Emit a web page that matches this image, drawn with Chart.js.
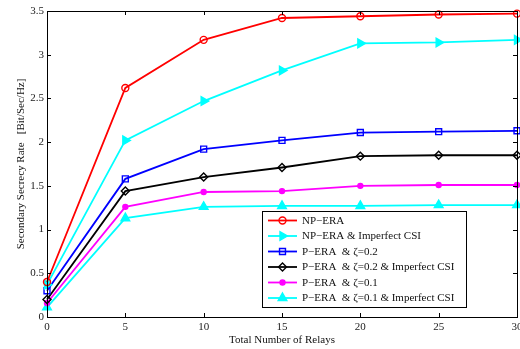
<!DOCTYPE html>
<html>
<head>
<meta charset="utf-8">
<script src="https://cdn.jsdelivr.net/npm/chart.js@4/dist/chart.umd.min.js"></script>
<style>
  html, body { margin: 0; padding: 0; background: #fff; overflow: hidden; }
  #wrap { width: 540px; height: 349px; }
</style>
</head>
<body>
<div id="wrap"><canvas id="chartz" width="540" height="349"></canvas></div>
<script>
'use strict'

// x axis: number of relays
const relays = [0, 5, 10, 15, 20, 25, 30];

// secrecy rate per scheme
const npEra = [0.40, 2.62, 3.17, 3.42, 3.44, 3.46, 3.47];
const npEraImperfect = [0.37, 2.02, 2.47, 2.82, 3.13, 3.14, 3.17];
const pEra02 = [0.30, 1.58, 1.92, 2.02, 2.11, 2.12, 2.13];
const pEra02Imperfect = [0.20, 1.44, 1.60, 1.71, 1.84, 1.85, 1.85];
const pEra01 = [0.16, 1.26, 1.43, 1.44, 1.50, 1.51, 1.51];
const pEra01Imperfect = [0.11, 1.13, 1.26, 1.27, 1.27, 1.28, 1.28];

const names = [
  'NP\u2212ERA',
  'NP\u2212ERA & Imperfect CSI',
  'P\u2212ERA  & \u03b6=0.2',
  'P\u2212ERA  & \u03b6=0.2 & Imperfect CSI',
  'P\u2212ERA  & \u03b6=0.1',
  'P\u2212ERA  & \u03b6=0.1 & Imperfect CSI'
];

const serif = "'Liberation Serif', 'Times New Roman', serif";

function pts(vals) {
  return relays.map((r, i) => ({x: r, y: vals[i]}));
}

function series(label, vals, color, style, radius, filled, rotation) {
  return {
    label: label,
    data: pts(vals),
    borderColor: color,
    backgroundColor: filled ? color : 'rgba(0,0,0,0)',
    borderWidth: 1.8,
    pointStyle: style,
    pointRadius: radius,
    pointRotation: rotation || 0,
    pointBorderWidth: 1.4,
    pointBorderColor: color,
    pointBackgroundColor: filled ? color : 'rgba(0,0,0,0)',
    tension: 0,
    clip: false
  };
}

// matlab style box with inward ticks on all sides
const boxTicks = {
  id: 'boxTicks',
  afterDraw(chart) {
    const ctx = chart.ctx;
    const a = chart.chartArea;
    const xs = chart.scales.x, ys = chart.scales.y;
    ctx.save();
    ctx.strokeStyle = '#000';
    ctx.lineWidth = 1;
    ctx.strokeRect(a.left + 0.5, a.top + 0.5, a.right - a.left, a.bottom - a.top);
    ctx.beginPath();
    xs.ticks.forEach(t => {
      const px = Math.round(xs.getPixelForValue(t.value)) + 0.5;
      ctx.moveTo(px, a.bottom); ctx.lineTo(px, a.bottom - 4);
      ctx.moveTo(px, a.top); ctx.lineTo(px, a.top + 4);
    });
    ys.ticks.forEach(t => {
      const py = Math.round(ys.getPixelForValue(t.value)) + 0.5;
      ctx.moveTo(a.left, py); ctx.lineTo(a.left + 4, py);
      ctx.moveTo(a.right, py); ctx.lineTo(a.right - 4, py);
    });
    ctx.stroke();
    ctx.restore();
  }
};

// legend box: line sample with marker, then label
const lineLegend = {
  id: 'lineLegend',
  afterDraw(chart) {
    const ctx = chart.ctx;
    const a = chart.chartArea;
    const bx = a.left + 215, by = a.top + 200, bw = 204, bh = 96;
    ctx.save();
    ctx.fillStyle = '#fff';
    ctx.fillRect(bx, by, bw, bh);
    ctx.strokeStyle = '#000';
    ctx.lineWidth = 1;
    ctx.strokeRect(bx + 0.5, by + 0.5, bw, bh);
    ctx.font = '11px ' + serif;
    ctx.textBaseline = 'middle';
    chart.data.datasets.forEach((ds, i) => {
      const y = by + 9.5 + i * 15.5;
      ctx.strokeStyle = ds.borderColor;
      ctx.lineWidth = ds.borderWidth;
      ctx.beginPath();
      ctx.moveTo(bx + 6, y); ctx.lineTo(bx + 35, y);
      ctx.stroke();
      ctx.lineWidth = ds.pointBorderWidth;
      ctx.fillStyle = ds.pointBackgroundColor;
      Chart.helpers.drawPoint(ctx, {
        pointStyle: ds.pointStyle,
        rotation: ds.pointRotation,
        radius: ds.pointRadius,
        borderWidth: ds.pointBorderWidth
      }, bx + 20.5, y);
      ctx.fillStyle = '#111';
      ctx.fillText(ds.label, bx + 40, y + 0.5);
    });
    ctx.restore();
  }
};

const data = {
  datasets: [
    series(names[0], npEra, '#ff0000', 'circle', 3.5, false),
    series(names[1], npEraImperfect, '#00ffff', 'triangle', 5, true, 90),
    series(names[2], pEra02, '#0000ff', 'rect', 4.2, false),
    series(names[3], pEra02Imperfect, '#000000', 'rectRot', 4, false),
    series(names[4], pEra01, '#ff00ff', 'circle', 2.5, true),
    series(names[5], pEra01Imperfect, '#00ffff', 'triangle', 5, true)
  ]
};

const config = {
  type: 'line',
  data: data,
  options: {
    responsive: false,
    animation: false,
    devicePixelRatio: 1,
    layout: { padding: { left: 0, top: 11, right: 23, bottom: 0 } },
    plugins: {
      legend: { display: false },
      tooltip: { enabled: false }
    },
    scales: {
      x: {
        type: 'linear',
        min: 0, max: 30,
        ticks: { stepSize: 5, color: '#222', padding: 4, maxRotation: 0,
                 font: { family: serif, size: 11 } },
        grid: { display: false, drawTicks: false },
        border: { display: false },
        title: { display: true, text: 'Total Number of Relays', color: '#111',
                 font: { family: serif, size: 11 }, padding: { top: 0, bottom: 2 } },
        afterFit(scale) { scale.height = 32; }
      },
      y: {
        min: 0, max: 3.5,
        ticks: { stepSize: 0.5, color: '#222', padding: 3,
                 font: { family: serif, size: 11 },
                 callback: v => String(+v.toFixed(1)) },
        grid: { display: false, drawTicks: false },
        border: { display: false },
        title: { display: true, text: 'Secondary Secrecy Rate   [Bit/Sec/Hz]', color: '#111',
                 font: { family: serif, size: 11 }, padding: { top: 15, bottom: 0 } },
        afterFit(scale) { scale.width = 47; }
      }
    }
  },
  plugins: [boxTicks, lineLegend]
};

const myChart = new Chart(document.getElementById('chartz'), config);
</script>
</body>
</html>
